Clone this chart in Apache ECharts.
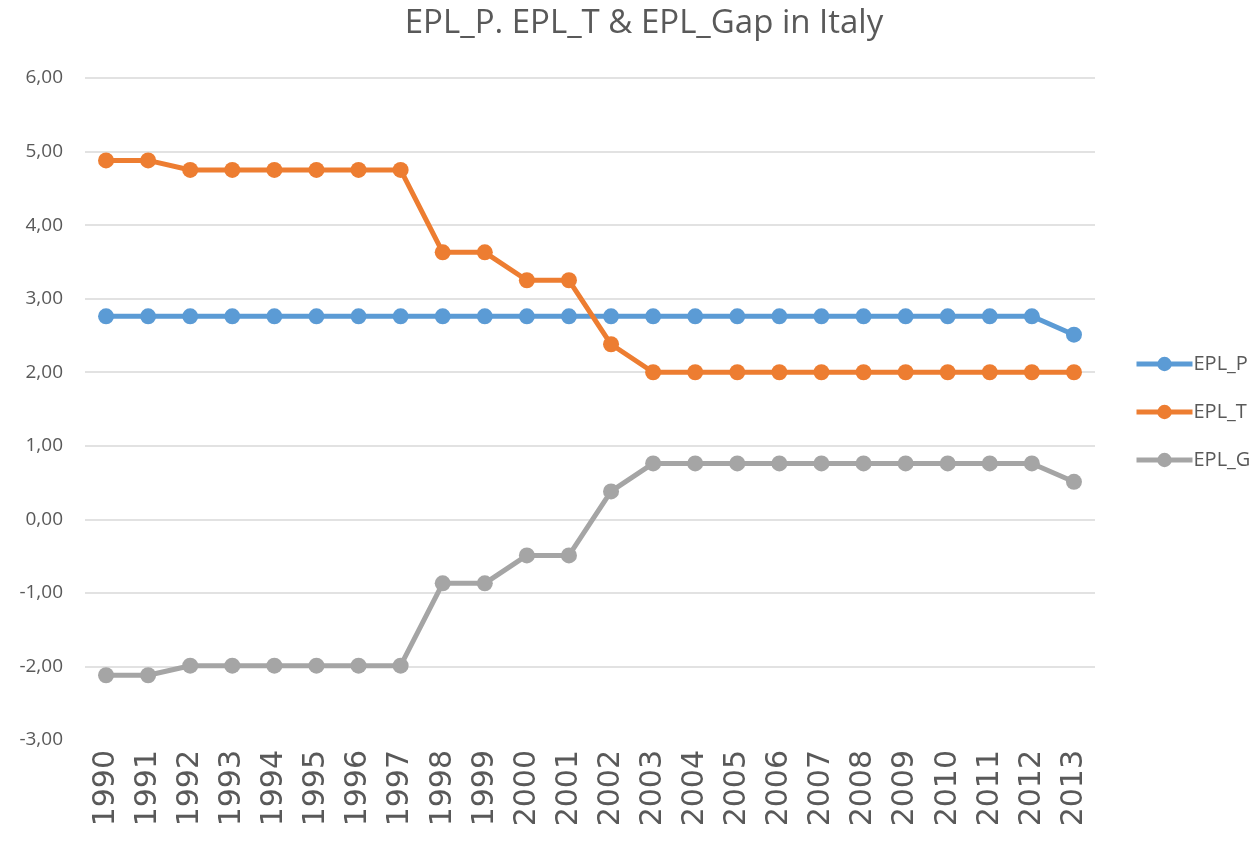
<!DOCTYPE html>
<html>
<head>
    <meta charset="utf-8">
    <title></title>
    <script type="text/javascript" src="https://cdn.jsdelivr.net/npm/echarts@6/dist/echarts.min.js"></script>
</head>
<body style="margin:0;">

<div id="main" style="width: 1255px;height:844px;"></div>
<script type="text/javascript">
    // 年份
    var years = ['1990', '1991', '1992', '1993', '1994', '1995', '1996', '1997', '1998', '1999', '2000', '2001',
        '2002', '2003', '2004', '2005', '2006', '2007', '2008', '2009', '2010', '2011', '2012', '2013'];
    var eplP = [2.76, 2.76, 2.76, 2.76, 2.76, 2.76, 2.76, 2.76, 2.76, 2.76, 2.76, 2.76,
        2.76, 2.76, 2.76, 2.76, 2.76, 2.76, 2.76, 2.76, 2.76, 2.76, 2.76, 2.51];
    var eplT = [4.88, 4.88, 4.75, 4.75, 4.75, 4.75, 4.75, 4.75, 3.63, 3.63, 3.25, 3.25,
        2.38, 2.00, 2.00, 2.00, 2.00, 2.00, 2.00, 2.00, 2.00, 2.00, 2.00, 2.00];
    var eplG = [-2.12, -2.12, -1.99, -1.99, -1.99, -1.99, -1.99, -1.99, -0.87, -0.87, -0.49, -0.49,
        0.38, 0.76, 0.76, 0.76, 0.76, 0.76, 0.76, 0.76, 0.76, 0.76, 0.76, 0.51];

    var myChart = echarts.init(document.getElementById('main'));

    function mkSeries(name, data, color) {
        return {
            name: name,
            type: 'line',
            data: data,
            symbol: 'circle',
            symbolSize: 16,
            lineStyle: {width: 5, color: color},
            itemStyle: {color: color},
            z: 2
        };
    }

    var gridColors = ['rgba(0,0,0,0)'];
    for (var i = 0; i < 9; i++) gridColors.push('#d9d9d9');

    option = {
        backgroundColor: '#fff',
        animation: false,
        title: {
            text: 'EPL_P. EPL_T & EPL_Gap in Italy',
            left: 639,
            textAlign: 'center',
            top: 2,
            textStyle: {
                fontFamily: 'Open Sans',
                fontWeight: 'normal',
                fontSize: 33,
                color: '#595959'
            }
        },
        legend: {
            orient: 'vertical',
            left: 1134,
            top: 354,
            padding: 0,
            itemGap: 28,
            itemWidth: 56,
            itemHeight: 18,
            lineStyle: {width: 5},
            textStyle: {fontFamily: 'Open Sans', fontSize: 20, color: '#595959', padding: [0, 0, 0, -4]},
            data: ['EPL_P', 'EPL_T', 'EPL_G']
        },
        grid: {
            left: 85,
            right: 160,
            top: 78,
            bottom: 104,
            containLabel: false
        },
        xAxis: {
            type: 'category',
            boundaryGap: true,
            data: years,
            axisLine: {show: false},
            axisTick: {show: false},
            axisLabel: {
                rotate: 90,
                margin: 10,
                fontFamily: 'DejaVu Sans',
                fontSize: 30,
                color: '#595959'
            }
        },
        yAxis: {
            type: 'value',
            min: -3,
            max: 6,
            interval: 1,
            axisLine: {show: false},
            axisTick: {show: false},
            axisLabel: {
                margin: 22,
                fontFamily: 'Open Sans',
                fontSize: 19,
                color: '#595959',
                formatter: function (v) {
                    return v.toFixed(2).replace('.', ',');
                }
            },
            splitLine: {lineStyle: {color: gridColors, width: 1.5}}
        },
        series: [
            mkSeries('EPL_P', eplP, '#5B9BD5'),
            mkSeries('EPL_T', eplT, '#ED7D31'),
            mkSeries('EPL_G', eplG, '#A5A5A5')
        ]
    };

    myChart.setOption(option);
</script>

</body>
</html>
